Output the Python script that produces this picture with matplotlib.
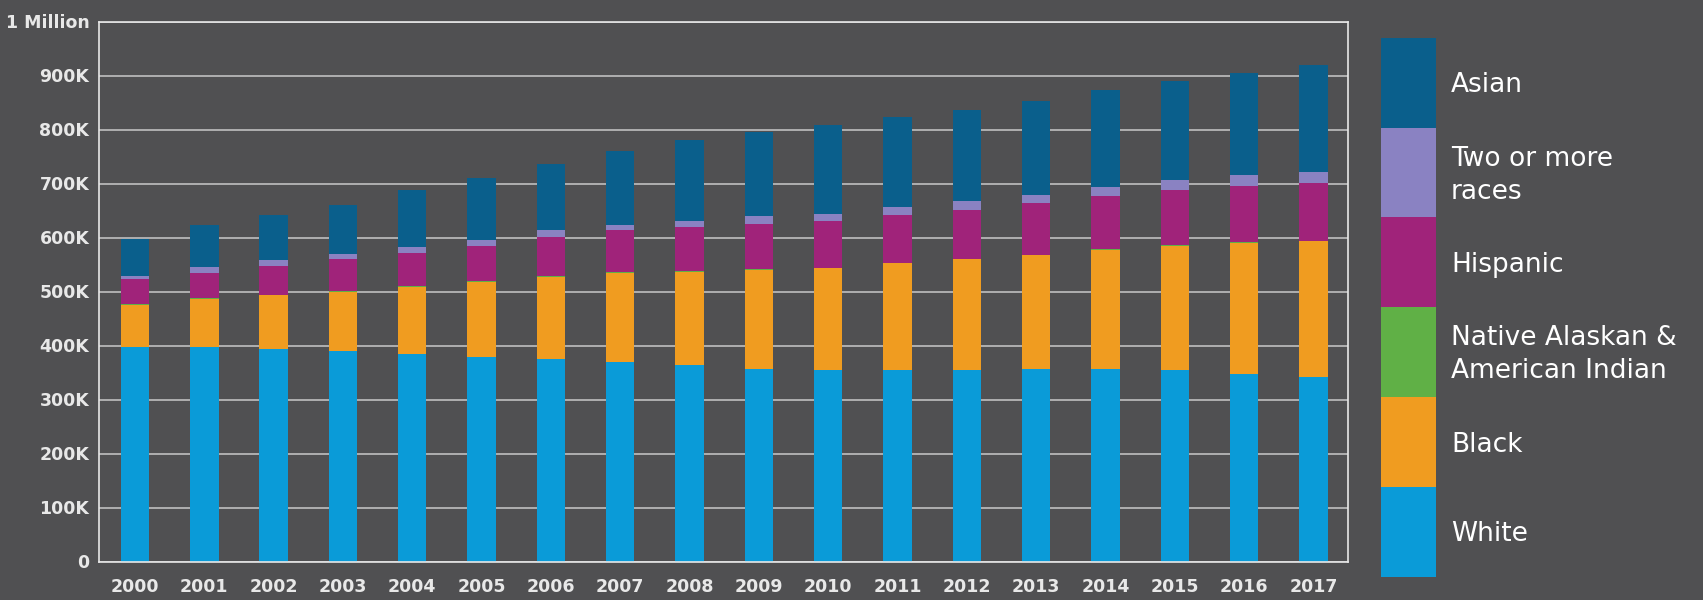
import numpy as np
import matplotlib.pyplot as plt
from matplotlib.patches import Rectangle

years = [str(y) for y in range(2000, 2018)]

# values in thousands
white = [398, 397, 393, 390, 385, 379, 375, 370, 364, 356, 354, 354, 354, 356, 356, 354, 347, 341]
black = [77, 90, 100, 110, 124, 139, 152, 165, 173, 184, 189, 198, 206, 211, 221, 231, 243, 252]
native = [1, 1, 1, 1, 1, 1, 1, 1, 1, 1, 1, 1, 1, 1, 1, 1, 1, 1]
hispanic = [47, 47, 54, 59, 61, 66, 73, 78, 82, 84, 87, 89, 90, 95, 99, 102, 105, 107]
two_more = [6, 10, 10, 9, 11, 10, 12, 9, 11, 14, 12, 15, 17, 16, 17, 18, 20, 21]
asian = [68, 78, 84, 91, 106, 115, 124, 138, 149, 156, 166, 166, 168, 173, 179, 184, 189, 198]

series = [white, black, native, hispanic, two_more, asian]
colors = ['#0a9bd8', '#f09c20', '#60b046', '#a0237a', '#8a82c2', '#0a5f8c']
legend_labels = ['White', 'Black', 'Native Alaskan &\nAmerican Indian',
                 'Hispanic', 'Two or more\nraces', 'Asian']
yticks = [0, 100, 200, 300, 400, 500, 600, 700, 800, 900, 1000]
ytick_labels = ['0', '100K', '200K', '300K', '400K', '500K', '600K',
                '700K', '800K', '900K', '1 Million']

bg = '#505052'
fig = plt.figure(figsize=(17.03, 6.0), dpi=100, facecolor=bg)
ax = fig.add_axes([99 / 1703, 1 - 561.5 / 600, 1249 / 1703, 540 / 600])
ax.set_facecolor(bg)

x = np.arange(len(years))
bottom = np.zeros(len(years))
for vals, c in zip(series, colors):
    v = np.array(vals, dtype=float) * 1000
    ax.bar(x, v, width=0.41, bottom=bottom, color=c, zorder=2, linewidth=0)
    bottom += v

ax.set_xlim(-0.52, 17.5)
ax.set_ylim(0, 1000000)
ax.set_yticks(np.array(yticks) * 1000)
ax.set_yticklabels(ytick_labels)
ax.set_xticks(x)
ax.set_xticklabels(years)
ax.grid(axis='y', color='#c9c9c9', linewidth=1.1, zorder=0)
ax.set_axisbelow(True)
for s in ax.spines.values():
    s.set_color('#e8e8e8')
    s.set_linewidth(1.2)
ax.tick_params(axis='both', length=0, colors='#e8e8e8')
ax.tick_params(axis='y', pad=7)
ax.tick_params(axis='x', pad=12)
for lab in ax.get_xticklabels() + ax.get_yticklabels():
    lab.set_fontsize(12.5)
    lab.set_fontweight('bold')
    lab.set_color('#e8e8e8')

# legend as a column of coloured blocks
lax = fig.add_axes([1381 / 1703, 1 - 576.7 / 600, 54.7 / 1703, 539 / 600])
lax.set_xlim(0, 1)
lax.set_ylim(0, 6)
lax.axis('off')
for i, (c, lab) in enumerate(zip(colors, legend_labels)):
    lax.add_patch(Rectangle((0, i), 1, 1, color=c, linewidth=0))
    fig.text(1451 / 1703, (1 - 576.7 / 600) + (i + 0.47) * (539 / 600) / 6, lab,
             color='white', fontsize=19, va='center', ha='left',
             linespacing=1.35)

fig.savefig('out.png', dpi=100, facecolor=bg)
